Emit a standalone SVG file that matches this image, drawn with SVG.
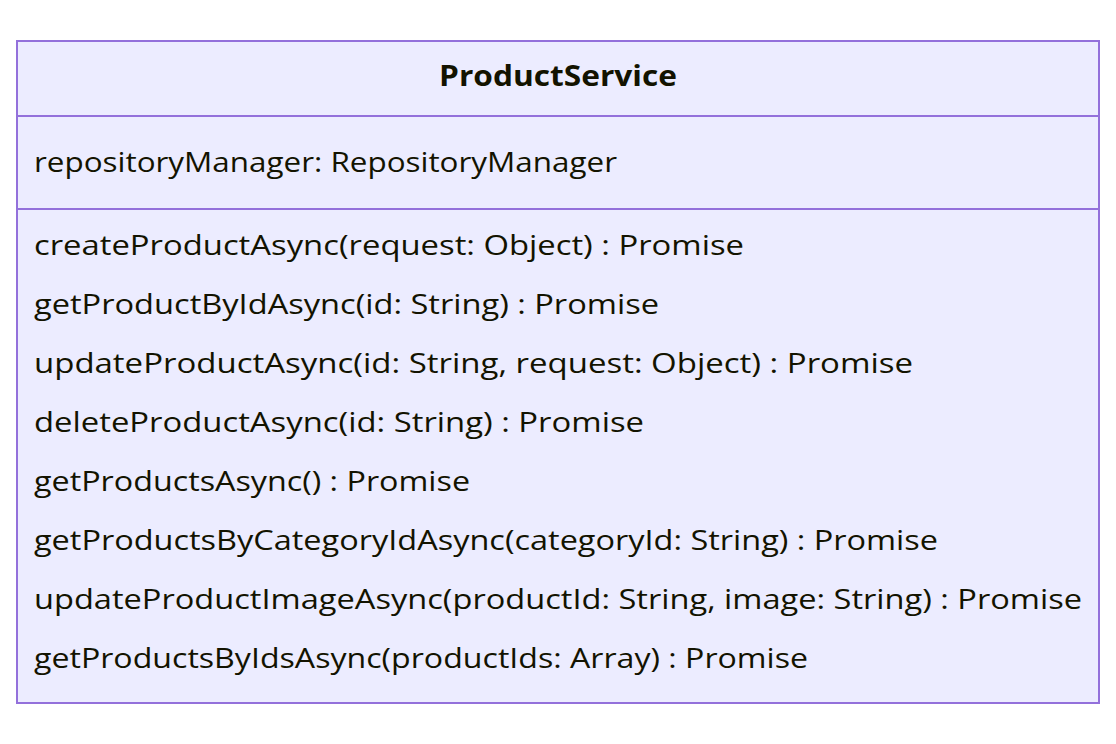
<svg xmlns="http://www.w3.org/2000/svg" width="1116" height="744" viewBox="0 0 1116 744">
<style>
.box{fill:#ECECFF;stroke:#9370DB;stroke-width:2}
.div{stroke:#9370DB;stroke-width:2}
text{font-family:"Trebuchet MS","Open Sans","DejaVu Sans",sans-serif;font-size:28px;fill:#131300}
.title{font-weight:bold;text-anchor:middle}
</style>
<rect width="1116" height="744" fill="#ffffff"/>
<g id="ProductService">
<rect class="box" x="17" y="41" width="1082" height="662"/>
<line class="div" x1="17" y1="116" x2="1099" y2="116"/>
<line class="div" x1="17" y1="209" x2="1099" y2="209"/>
<text class="title" x="558" y="86" textLength="238" lengthAdjust="spacingAndGlyphs">ProductService</text>
<text x="34" y="172" textLength="583" lengthAdjust="spacingAndGlyphs">repositoryManager: RepositoryManager</text>
<text x="34" y="255" textLength="710" lengthAdjust="spacingAndGlyphs">createProductAsync(request: Object) : Promise</text>
<text x="34" y="314" textLength="625" lengthAdjust="spacingAndGlyphs">getProductByIdAsync(id: String) : Promise</text>
<text x="34" y="373" textLength="879" lengthAdjust="spacingAndGlyphs">updateProductAsync(id: String, request: Object) : Promise</text>
<text x="34" y="432" textLength="610" lengthAdjust="spacingAndGlyphs">deleteProductAsync(id: String) : Promise</text>
<text x="34" y="491" textLength="436" lengthAdjust="spacingAndGlyphs">getProductsAsync() : Promise</text>
<text x="34" y="550" textLength="904" lengthAdjust="spacingAndGlyphs">getProductsByCategoryIdAsync(categoryId: String) : Promise</text>
<text x="34" y="609" textLength="1048" lengthAdjust="spacingAndGlyphs">updateProductImageAsync(productId: String, image: String) : Promise</text>
<text x="34" y="668" textLength="774" lengthAdjust="spacingAndGlyphs">getProductsByIdsAsync(productIds: Array) : Promise</text>
</g>
<g id="connectors"></g>
</svg>
